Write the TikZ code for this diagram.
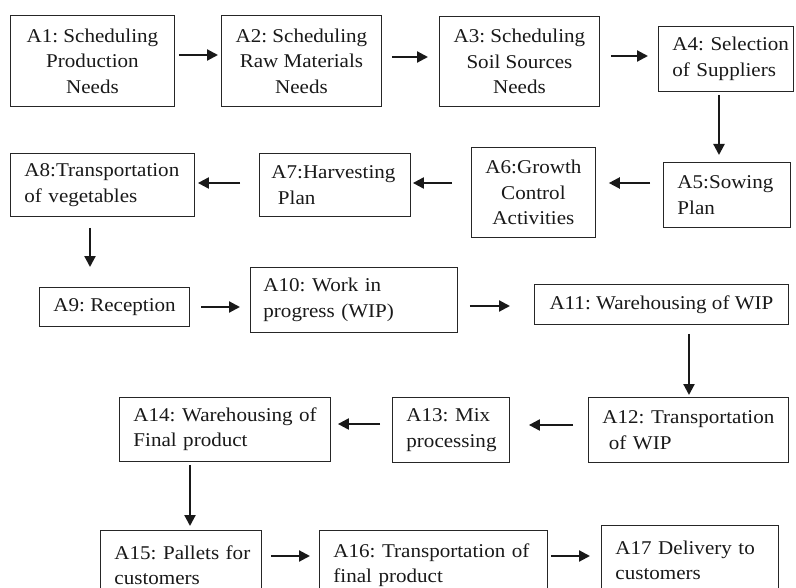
\documentclass[tikz,border=0pt]{standalone}
\usepackage{fontspec}
\setmainfont{Liberation Serif}[FakeStretch=1.08]
\usetikzlibrary{arrows.meta}
\tikzset{
  box/.style={draw=black!85, line width=0.9bp, anchor=north west, inner xsep=14bp, inner ysep=0pt,
    font=\fontsize{19.5bp}{25.5bp}\selectfont\frenchspacing, text=black!90},
  cbox/.style={box, align=center},
  lbox/.style={box, align=left},
  arr/.style={line width=2.2bp, draw=black!90, -{Triangle[length=11bp,width=11bp]}},
}
\begin{document}
\frenchspacing
\begin{tikzpicture}[x=1bp,y=-1bp]
\useasboundingbox (0,0) rectangle (796,588);
\clip (0,0) rectangle (796,588);
\fill[white] (0,0) rectangle (796,588);
% row 1
\node[cbox, minimum width=164bp, minimum height=91bp] (A1) at (10,15) {A1: Scheduling\\Production\\Needs};
\node[cbox, minimum width=160bp, minimum height=91bp] (A2) at (221,15) {A2: Scheduling\\Raw Materials\\Needs};
\node[cbox, minimum width=160bp, minimum height=90bp] (A3) at (439,16) {A3: Scheduling\\Soil Sources\\Needs};
\node[lbox, minimum width=135bp, text width=107bp, minimum height=65bp] (A4) at (658,26) {\mbox{A4: Selection}\\\mbox{of Suppliers}};
% row 2
\node[lbox, minimum width=127bp, text width=99bp, minimum height=65bp] (A5) at (663,162) {\mbox{A5:Sowing}\\Plan};
\node[cbox, minimum width=123bp, minimum height=90bp] (A6) at (471,147) {A6:Growth\\Control\\Activities};
\node[lbox, inner xsep=12bp, minimum width=151bp, text width=127bp, minimum height=63bp] (A7) at (259,153) {\mbox{A7:Harvesting}\\\mbox{\ Plan}};
\node[lbox, minimum width=184bp, text width=156bp, minimum height=63bp] (A8) at (10,153) {\mbox{A8:Transportation}\\\mbox{of vegetables}};
% row 3
\node[cbox, minimum width=150bp, minimum height=39bp] (A9) at (39,287) {A9: Reception};
\node[lbox, inner xsep=13bp, minimum width=207bp, text width=181bp, minimum height=65bp] (A10) at (250,267) {\mbox{A10: Work in}\\\mbox{progress (WIP)}};
\node[cbox, minimum width=254bp, minimum height=40bp] (A11) at (534,284) {A11: Warehousing of WIP};
% row 4
\node[lbox, minimum width=200bp, text width=172bp, minimum height=65bp] (A12) at (588,397) {\mbox{A12: Transportation}\\\mbox{\ of WIP}};
\node[lbox, minimum width=117bp, text width=89bp, minimum height=65bp] (A13) at (392,397) {\mbox{A13: Mix}\\\mbox{processing}};
\node[lbox, minimum width=211bp, text width=183bp, minimum height=64bp] (A14) at (119,397) {\mbox{A14: Warehousing of}\\\mbox{Final product}};
% row 5
\node[lbox, minimum width=161bp, text width=133bp, minimum height=70bp] (A15) at (100,530) {\mbox{A15: Pallets for}\\\mbox{customers}};
\node[lbox, minimum width=228bp, text width=200bp, minimum height=70bp] (A16) at (319,530) {\mbox{A16: Transportation of}\\\mbox{final product}};
\node[lbox, minimum width=177bp, text width=149bp, minimum height=70bp] (A17) at (601,525) {\mbox{A17 Delivery to}\\\mbox{customers}};
% arrows
\draw[arr, shorten <=4bp, shorten >=3bp] (A1.east |- 0,55) -- (A2.west |- 0,55);
\draw[arr, shorten <=10bp, shorten >=11bp] (A2.east |- 0,57) -- (A3.west |- 0,57);
\draw[arr, shorten <=11bp, shorten >=10bp] (A3.east |- 0,56) -- (A4.west |- 0,56);
\draw[arr, shorten <=3bp, shorten >=7bp] (A4.south -| 719,0) -- (A5.north -| 719,0);
\draw[arr, shorten <=13bp, shorten >=13bp] (A5.west |- 0,183) -- (A6.east |- 0,183);
\draw[arr, shorten <=19bp, shorten >=2bp] (A6.west |- 0,183) -- (A7.east |- 0,183);
\draw[arr, shorten <=19bp, shorten >=3bp] (A7.west |- 0,183) -- (A8.east |- 0,183);
\draw[arr, shorten <=11bp, shorten >=20bp] (A8.south -| 90,0) -- (A9.north -| 90,0);
\draw[arr, shorten <=11bp, shorten >=10bp] (A9.east |- 0,307) -- (A10.west |- 0,307);
\draw[arr, shorten <=12bp, shorten >=24bp] (A10.east |- 0,306) -- (A11.west |- 0,306);
\draw[arr, shorten <=9bp, shorten >=2bp] (A11.south -| 689,0) -- (A12.north -| 689,0);
\draw[arr, shorten <=15bp, shorten >=19bp] (A12.west |- 0,425) -- (A13.east |- 0,425);
\draw[arr, shorten <=12bp, shorten >=7bp] (A13.west |- 0,424) -- (A14.east |- 0,424);
\draw[arr, shorten <=3bp, shorten >=4bp] (A14.south -| 190,0) -- (A15.north -| 190,0);
\draw[arr, shorten <=9bp, shorten >=9bp] (A15.east |- 0,556) -- (A16.west |- 0,556);
\draw[arr, shorten <=3bp, shorten >=11bp] (A16.east |- 0,556) -- (A17.west |- 0,556);
\end{tikzpicture}
\end{document}
